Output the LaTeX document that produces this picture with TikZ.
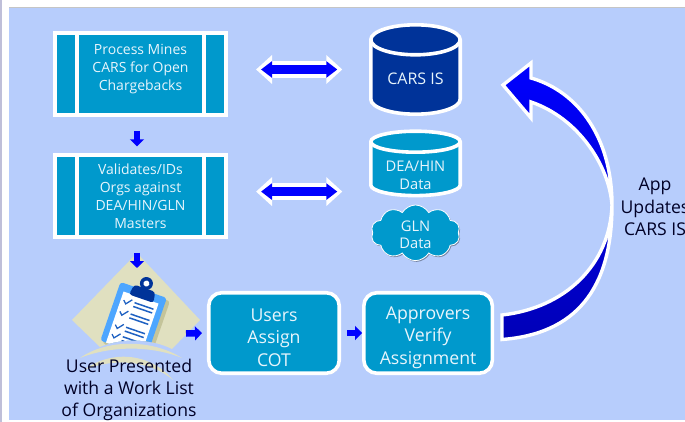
\documentclass[tikz,border=0pt]{standalone}
\usepackage{fontspec}
\setmainfont{Open Sans}
\usetikzlibrary{arrows.meta,positioning,shadows,shapes.symbols}
\definecolor{panel}{HTML}{B7CDFC}
\definecolor{teal}{HTML}{0099CC}
\definecolor{navy}{HTML}{003399}
\definecolor{beige}{HTML}{E0E0C0}
\definecolor{beigedark}{HTML}{C4C49A}
\definecolor{paletext}{HTML}{E8F5FC}
\definecolor{boardblue}{HTML}{4DA6FF}
\newcommand{\lowerline}[1]{\rule{0pt}{#1}}
\begin{document}
\begin{tikzpicture}
        [x=1pt, y=-1pt,
         softshadow/.style={drop shadow={shadow xshift=1pt, shadow yshift=-1.2pt, opacity=.35, fill=black}},
         procbox/.style={draw=white, line width=3.6pt, fill=teal, text=paletext, align=center, font=\fontsize{14}{18}\selectfont,
                minimum width=171.5pt, minimum height=82pt, inner sep=0pt, softshadow},
         stepbox/.style={rectangle, rounded corners=13pt, draw=white, line width=3.6pt, fill=teal, text=paletext, align=center,
                font=\fontsize{17.7}{22.3}\selectfont, minimum height=80.5pt, inner sep=0pt, softshadow},
         store/.style 2 args={minimum width=96pt, inner sep=0pt, path picture={
                \coordinate (topl) at ([xshift=3.3pt, yshift=-3.3pt-#2]path picture bounding box.north west);
                \coordinate (topr) at ([xshift=-3.3pt, yshift=-3.3pt-#2]path picture bounding box.north east);
                \coordinate (botl) at ([xshift=3.3pt, yshift=3.3pt+#2]path picture bounding box.south west);
                \coordinate (botr) at ([xshift=-3.3pt, yshift=3.3pt+#2]path picture bounding box.south east);
                \fill[black, opacity=.3, shift={(1pt,-1.2pt)}] (topl) -- (botl) arc[start angle=180, end angle=360, x radius=44.7pt, y radius=#2]
                        -- (topr) arc[start angle=0, end angle=180, x radius=44.7pt, y radius=#2] -- cycle;
                \draw[draw=white, line width=3.6pt, fill=#1] (topl) -- (botl) arc[start angle=180, end angle=360, x radius=44.7pt, y radius=#2]
                        -- (topr) arc[start angle=0, end angle=180, x radius=44.7pt, y radius=#2] -- cycle;
                \draw[draw=white, line width=3.6pt] (topl) arc[start angle=180, end angle=360, x radius=44.7pt, y radius=#2];
         }},
         storetext/.style={text=paletext, align=center, inner sep=0pt},
         bigarrow/.style={{Triangle[length=11pt,width=16pt]}-{Triangle[length=11pt,width=16pt]}, draw=blue, line width=9pt,
                shorten <=33pt, shorten >=33pt,
                preaction={draw=white, line width=17pt, {Triangle[length=16pt,width=28pt]}-{Triangle[length=16pt,width=28pt]},
                        shorten <=28pt, shorten >=28pt}},
         smallarrow/.style={-{Triangle[length=7pt,width=14pt]}, draw=blue, line width=6.5pt},
         plainlabel/.style={align=center, text=black!85!blue, font=\fontsize{17.6}{22.3}\selectfont, inner sep=0pt}]

        \fill[white] (0,0) rectangle (685,422);
        \useasboundingbox (0,0) rectangle (685,422);
        \fill[blue!25!gray!40] (0,0) rectangle (2,422);
        \fill[black!45, opacity=.5] (9,7) rectangle (685,9);
        \fill[panel] (9,8) rectangle (685,420);

        \node[procbox] (mines) at (140.5,74) {Process Mines\\CARS for Open\\Chargebacks\\[-4pt]\mbox{}};
        \node[procbox] (validates) [below=36.5pt of mines] {Validates/IDs\\Orgs against\\DEA/HIN/GLN\\Masters};
        \foreach \boxname in {mines,validates}
                \foreach \off in {-63.5,63.5}
                        \draw[white, line width=3.7pt] ([xshift=\off pt]\boxname.north) -- ([xshift=\off pt]\boxname.south);

        \node[store={navy}{15pt}, minimum height=96pt,
                label={[storetext, yshift=-9pt, font=\fontsize{16}{18}\selectfont]center:CARS IS}] (cars) at (415.5,69.5) {};
        \node[store={teal}{10.5pt}, minimum height=71pt,
                label={[storetext, yshift=-12pt, font=\fontsize{14.7}{18}\selectfont]center:DEA/HIN\\Data}] (deahin) [below=10pt of cars] {};
        \node[cloud, cloud puffs=10, cloud puff arc=120, aspect=1.75, draw=white, line width=.8pt, fill=teal, text=paletext, align=center,
                font=\fontsize{14.7}{17}\selectfont, minimum width=89pt, minimum height=48pt, inner sep=0pt, softshadow]
                (gln) [below=5.5pt of deahin] {\lowerline{14pt}GLN\\Data};

        \node[stepbox, minimum width=130.5pt] (users) at (274,333) {\lowerline{22pt}Users\\Assign\\COT};
        \node[stepbox, minimum width=128.5pt] (approvers) [right=21pt of users] {\lowerline{22pt}Approvers\\Verify\\Assignment};

        \fill[beige] (137,253) -- (200,320) -- (172,349) .. controls (150,338) and (120,338) .. (100,347) -- (72,320) -- cycle;
        \begin{scope}
                \clip (60,250) -- (210,250) -- (210,349) -- (172,349) .. controls (150,338) and (120,338) .. (100,347) -- (60,349) -- cycle;
                \begin{scope}[shift={(120.5,282)}, rotate=-19]
                        \fill[beigedark, rounded corners=3pt] (3,2) rectangle (53,64);
                        \fill[boardblue, rounded corners=3pt] (0,0) rectangle (49,62);
                        \fill[white] (6,8) rectangle (43,62);
                        \fill[navy, rounded corners=3pt] (14,-2) -- (36,-2) -- (38,9) -- (12,9) -- cycle;
                        \fill[navy] (25,-7) circle (6.5pt);
                        \fill[white] (25,-7) circle (3pt);
                        \foreach \rowy in {16,28,42,52} {
                                \draw[boardblue!40!navy, line width=1.3pt] (9,\rowy) -- (12,\rowy+3) -- (17,\rowy-3);
                                \draw[boardblue!40!navy, line width=1.5pt] (20,\rowy-1) -- (40,\rowy-1);
                                \draw[boardblue!40!navy, line width=1.5pt] (20,\rowy+3) -- (40,\rowy+3);
                        }
                \end{scope}
        \end{scope}
        \fill[beige] (80,358) .. controls (105,340) and (150,338) .. (182,358) .. controls (150,345) and (110,346) .. cycle;
        \fill[beige] (84,370) .. controls (110,350) and (150,352) .. (173,380) .. controls (150,360) and (112,358) .. cycle;

        \node[plainlabel] (worklist) at (129,390) {User Presented\\with a Work List\\of Organizations};
        \node[plainlabel] (appupdates) at (655,207) {App\\Updates\\CARS IS};

        \coordinate (clipnorth) at (137,268);
        \coordinate (clipeast) at (186,333.5);
        \coordinate (bend) at (612,205);
        \coordinate (tailtop) at (502,315);
        \coordinate (tailbottom) at (502,339.5);

        \draw[bigarrow] (cars.west -| mines.east) -- ([xshift=3pt]cars.west);
        \draw[bigarrow] ([yshift=4.5pt]validates.east) -- ([yshift=4.5pt, xshift=3pt]validates.east -| deahin.west);
        \draw[smallarrow, shorten <=14pt, shorten >=7pt] ([xshift=-3.5pt]mines.south) -- ([xshift=-3.5pt]validates.north);
        \draw[smallarrow, shorten <=14pt] ([xshift=-3.5pt]validates.south) -- (clipnorth);
        \draw[smallarrow, shorten >=5pt] (clipeast) -- (users.west);
        \draw[smallarrow, shorten <=6pt] (users.east) -- (approvers.west);

        \draw[draw=white, line width=3.4pt, line join=miter, top color=blue, bottom color=blue!72!black]
                (tailbottom) .. controls (575,334) and (612,290) .. (bend)
                .. controls (612,140) and (580,92) .. (531,78) -- (531,63) -- (503,85) -- (531,118) -- (531,102)
                .. controls (578,118) and (609,165) .. (bend)
                .. controls (610,265) and (565,308) .. (tailtop) -- cycle;
\end{tikzpicture}
\end{document}
